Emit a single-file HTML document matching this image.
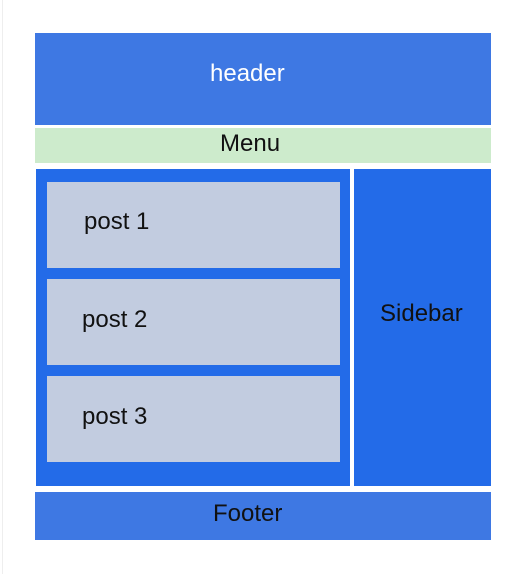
<!DOCTYPE html>
<html><head><style>
html,body{margin:0;padding:0;background:#fff;width:516px;height:574px;overflow:hidden;position:relative;font-family:"Liberation Sans",sans-serif;}
div.b{position:absolute;box-sizing:border-box;}
.t{position:absolute;font-size:24px;white-space:nowrap;}
</style></head><body>
<div class="b" style="left:2px;top:0;width:1px;height:574px;background:#eee"></div>
<div class="b" style="left:35px;top:33px;width:456px;height:92px;background:#3e78e3"></div>
<div class="t" style="left:210px;top:60px;color:#fff">header</div>
<div class="b" style="left:35px;top:128px;width:456px;height:35px;background:#cdebcc"></div>
<div class="t" style="left:220px;top:130px;color:#111">Menu</div>
<div class="b" style="left:36px;top:169px;width:314px;height:317px;background:#236be8"></div>
<div class="b" style="left:354px;top:169px;width:137px;height:317px;background:#236be8"></div>
<div class="t" style="left:380px;top:300px;color:#111">Sidebar</div>
<div class="b" style="left:47px;top:182px;width:293px;height:86px;background:#c2cce0"></div>
<div class="t" style="left:84px;top:208px;color:#111">post 1</div>
<div class="b" style="left:47px;top:279px;width:293px;height:86px;background:#c2cce0"></div>
<div class="t" style="left:82px;top:306px;color:#111">post 2</div>
<div class="b" style="left:47px;top:376px;width:293px;height:86px;background:#c2cce0"></div>
<div class="t" style="left:82px;top:403px;color:#111">post 3</div>
<div class="b" style="left:35px;top:492px;width:456px;height:48px;background:#3e78e3"></div>
<div class="t" style="left:213px;top:500px;color:#111">Footer</div>
</body></html>
